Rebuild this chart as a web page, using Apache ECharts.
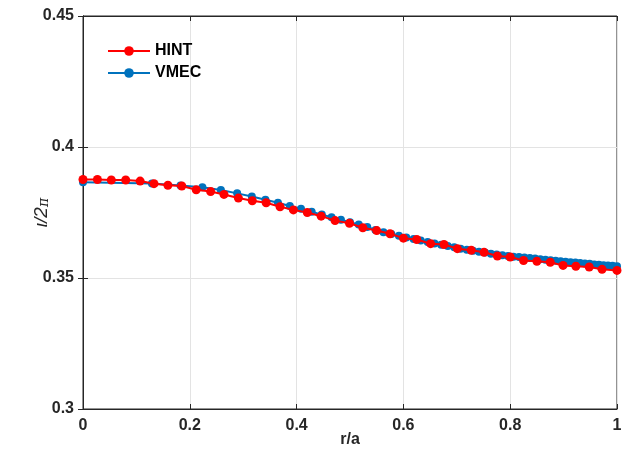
<!DOCTYPE html>
<html>
<head>
<meta charset="utf-8">
<script src="https://cdn.jsdelivr.net/npm/echarts@6/dist/echarts.min.js"></script>
<style>
html,body{margin:0;padding:0;background:#fff;}
#chart{width:630px;height:463px;}
</style>
</head>
<body>
<div id="chart"></div>
<script>
const xTicks = [0, 0.2, 0.4, 0.6, 0.8, 1];
const yTicks = [0.3, 0.35, 0.4, 0.45];

const hintR = [0, 0.027, 0.053, 0.080, 0.107, 0.133, 0.159, 0.185, 0.212, 0.239,
  0.264, 0.291, 0.317, 0.343, 0.369, 0.394, 0.420, 0.446, 0.472, 0.499,
  0.524, 0.550, 0.575, 0.600, 0.625, 0.651, 0.676, 0.701, 0.727, 0.751,
  0.776, 0.800, 0.825, 0.850, 0.875, 0.899, 0.923, 0.948, 0.972, 1.0];
const hintIota = [0.3876, 0.3876, 0.3874, 0.3874, 0.3870, 0.3860, 0.3854, 0.3851, 0.3837, 0.3830,
  0.3819, 0.3805, 0.3795, 0.3787, 0.3772, 0.3760, 0.3750, 0.3736, 0.3719, 0.3709,
  0.3692, 0.3681, 0.3669, 0.3652, 0.3647, 0.3631, 0.3628, 0.3612, 0.3606, 0.3598,
  0.3584, 0.3580, 0.3567, 0.3564, 0.3560, 0.3548, 0.3545, 0.3542, 0.3533, 0.3529];

const vmecR = [0, 0.1291, 0.1826, 0.2236, 0.2582, 0.2887, 0.3162, 0.3416, 0.3651, 0.3873,
  0.4082, 0.4282, 0.4472, 0.4655, 0.4830, 0.5000, 0.5164, 0.5323, 0.5477, 0.5627,
  0.5774, 0.5916, 0.6055, 0.6191, 0.6325, 0.6455, 0.6583, 0.6708, 0.6831, 0.6952,
  0.7071, 0.7188, 0.7303, 0.7416, 0.7528, 0.7638, 0.7746, 0.7853, 0.7958, 0.8062,
  0.8165, 0.8266, 0.8367, 0.8466, 0.8563, 0.8660, 0.8756, 0.8851, 0.8944, 0.9037,
  0.9129, 0.9220, 0.9309, 0.9398, 0.9487, 0.9574, 0.9661, 0.9747, 0.9832, 0.9916, 1.0];
const vmecIota = [0.3865, 0.3861, 0.3853, 0.3846, 0.3836, 0.3823, 0.3811, 0.3799, 0.3787, 0.3775,
  0.3764, 0.3753, 0.3742, 0.3732, 0.3722, 0.3713, 0.3704, 0.3695, 0.3683, 0.3675,
  0.3668, 0.3661, 0.3655, 0.3649, 0.3643, 0.3637, 0.3632, 0.3627, 0.3622, 0.3617,
  0.3612, 0.3608, 0.3604, 0.3600, 0.3597, 0.3593, 0.3590, 0.3587, 0.3584, 0.3581,
  0.3580, 0.3578, 0.3576, 0.3574, 0.3572, 0.3570, 0.3568, 0.3566, 0.3564, 0.3562,
  0.3560, 0.3559, 0.3557, 0.3555, 0.3554, 0.3552, 0.3551, 0.3549, 0.3548, 0.3547, 0.3545];

const seriesNames = ['HINT', 'VMEC'];
const axisColor = '#262626';
const font = 'Liberation Sans, Arial, sans-serif';

const hintData = hintR.map((r, i) => [r, hintIota[i]]);
const vmecData = vmecR.map((r, i) => [r, vmecIota[i]]);

const chart = echarts.init(document.getElementById('chart'));
const labelStyle = {color: axisColor, fontFamily: font, fontWeight: 'bold', fontSize: 16};
chart.setOption({
  animation: false,
  backgroundColor: '#fff',
  grid: {left: 83, right: 13, top: 16, bottom: 54, show: true, borderColor: axisColor, borderWidth: 1},
  legend: {
    left: 102, top: 38, orient: 'vertical', itemWidth: 42, itemHeight: 12, itemGap: 6,
    data: seriesNames,
    textStyle: {color: '#000', fontFamily: font, fontWeight: 'bold', fontSize: 16}
  },
  xAxis: [{
    type: 'value', min: xTicks[0], max: xTicks[xTicks.length - 1], interval: 0.2,
    name: 'r/a', nameLocation: 'middle', nameGap: 23, nameMoveOverlap: false,
    nameTextStyle: {color: axisColor, fontFamily: font, fontWeight: 'bold', fontSize: 16},
    axisLine: {show: true, lineStyle: {color: axisColor}},
    axisTick: {show: true, inside: true, length: 5, lineStyle: {color: axisColor}},
    axisLabel: Object.assign({margin: 9, formatter: v => String(v)}, labelStyle),
    splitLine: {show: true, lineStyle: {color: '#e3e3e3', width: 1}}
  }, {
    type: 'value', position: 'top', min: 0, max: 1, interval: 0.2,
    axisLine: {show: true, lineStyle: {color: axisColor}},
    axisTick: {show: true, inside: true, length: 5, lineStyle: {color: axisColor}},
    axisLabel: {show: false}, splitLine: {show: false}
  }],
  yAxis: [{
    type: 'value', min: yTicks[0], max: yTicks[yTicks.length - 1], interval: 0.05,
    name: '{i|ι/2}{p|π}', nameLocation: 'middle', nameGap: 32, nameRotate: 90, nameMoveOverlap: false,
    nameTextStyle: {
      rich: {
        i: {color: axisColor, fontFamily: font, fontSize: 19, fontStyle: 'italic'},
        p: {color: axisColor, fontFamily: 'DejaVu Serif, serif', fontSize: 14, fontStyle: 'italic', verticalAlign: 'bottom'}
      }
    },
    axisLine: {show: true, lineStyle: {color: axisColor}},
    axisTick: {show: true, inside: true, length: 5, lineStyle: {color: axisColor}},
    axisLabel: Object.assign({margin: 9, formatter: v => String(+v.toFixed(2))}, labelStyle),
    splitLine: {show: true, lineStyle: {color: '#e3e3e3', width: 1}}
  }, {
    type: 'value', position: 'right', min: 0.3, max: 0.45, interval: 0.05,
    axisLine: {show: true, lineStyle: {color: axisColor}},
    axisTick: {show: true, inside: true, length: 5, lineStyle: {color: axisColor}},
    axisLabel: {show: false}, splitLine: {show: false}
  }],
  series: [{
    name: 'VMEC', type: 'line', data: vmecData, xAxisIndex: 0, yAxisIndex: 0,
    symbol: 'circle', symbolSize: 8, showSymbol: true,
    itemStyle: {color: '#0072BD'}, lineStyle: {color: '#0072BD', width: 2}, z: 2
  }, {
    name: 'HINT', type: 'line', data: hintData, xAxisIndex: 0, yAxisIndex: 0,
    symbol: 'circle', symbolSize: 9, showSymbol: true,
    itemStyle: {color: '#FF0000'}, lineStyle: {color: '#FF0000', width: 2}, z: 3
  }]
});
</script>
</body>
</html>
